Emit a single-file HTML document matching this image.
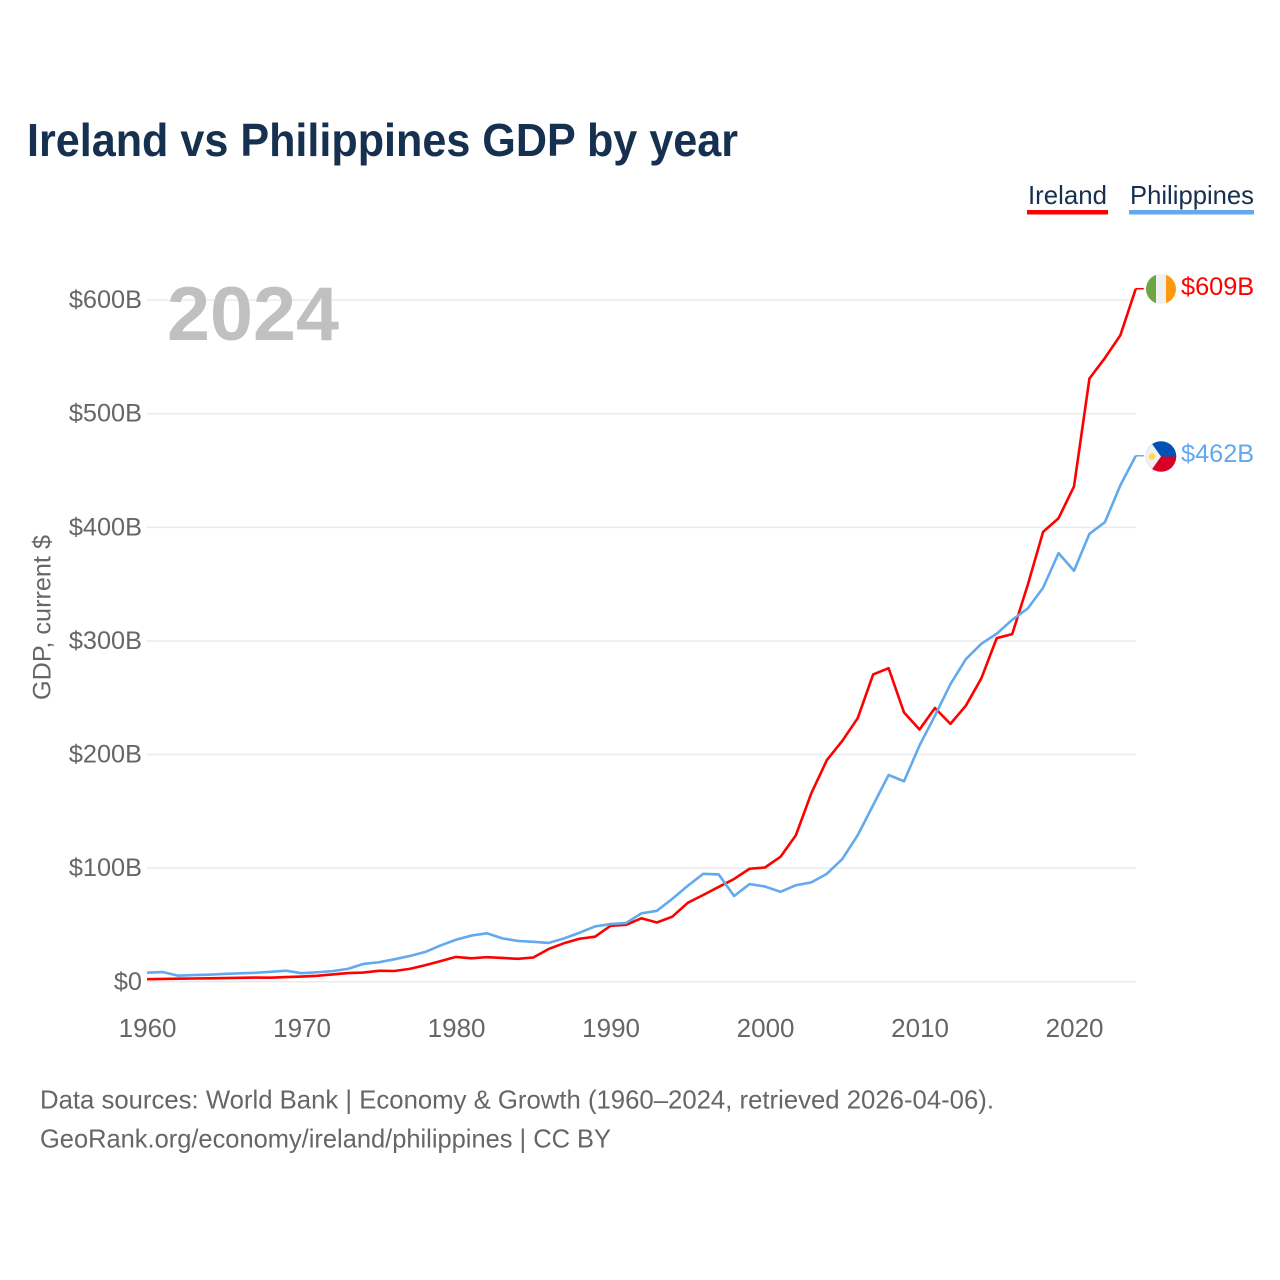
<!DOCTYPE html>
<html lang="en">
<head>
<meta charset="utf-8">
<title>Ireland vs Philippines GDP by year</title>
<style>
html,body{margin:0;padding:0;background:#fff}
svg{display:block}
text{font-family:"Liberation Sans",sans-serif}
</style>
</head>
<body>
<svg id="chart" xmlns="http://www.w3.org/2000/svg" width="1280" height="1280" viewBox="0 0 1280 1280">
  <rect x="0" y="0" width="1280" height="1280" fill="#fff"/>
  <defs>
    <clipPath id="clip-ie"><circle cx="1161" cy="289" r="15"/></clipPath>
    <clipPath id="clip-ph"><circle cx="1161" cy="456.5" r="15.3"/></clipPath>
  </defs>
  <text x="27" y="156" font-size="46" font-weight="700" fill="#16304f" textLength="711" lengthAdjust="spacingAndGlyphs">Ireland vs Philippines GDP by year</text>

  <g>
    <g>
      <text x="1028" y="204" font-size="26" fill="#16304f" textLength="79" lengthAdjust="spacingAndGlyphs">Ireland</text>
      <rect x="1027" y="210" width="81" height="4.5" fill="#ff0000"/>
    </g>
    <g>
      <text x="1130" y="204" font-size="26" fill="#16304f" textLength="124" lengthAdjust="spacingAndGlyphs">Philippines</text>
      <rect x="1129" y="210" width="125" height="4.5" fill="#63a9ee"/>
    </g>
  </g>

  <g id="grid"></g>
  <g id="y-ticks"></g>
  <g id="x-ticks"></g>

  <text x="167" y="340" font-size="76" font-weight="700" fill="#c0c0c0" textLength="172" lengthAdjust="spacingAndGlyphs">2024</text>

  <text transform="translate(50.5,617.5) rotate(-90)" text-anchor="middle" font-size="25" fill="#666666" textLength="165" lengthAdjust="spacingAndGlyphs">GDP, current $</text>

  <g id="series"></g>
  <g id="end-labels"></g>

  <g clip-path="url(#clip-ie)">
    <rect x="1146" y="274" width="10" height="30" fill="#6da544"/>
    <rect x="1156" y="274" width="10" height="30" fill="#f0f0f0"/>
    <rect x="1166" y="274" width="10" height="30" fill="#ff9811"/>
  </g>
  <g clip-path="url(#clip-ph)">
    <rect x="1145" y="441" width="32" height="15.5" fill="#0052b4"/>
    <rect x="1145" y="456.5" width="32" height="16" fill="#d80027"/>
    <polygon points="1145,441 1150,441 1161,456.5 1150,472 1145,472" fill="#f0f0f0"/>
    <circle cx="1152" cy="456.5" r="3.3" fill="#ffda44"/>
  </g>

  <text x="40" y="1108.5" font-size="26" fill="#666666" textLength="954" lengthAdjust="spacingAndGlyphs">Data sources: World Bank | Economy &amp; Growth (1960–2024, retrieved 2026-04-06).</text>
  <text x="40" y="1147.5" font-size="26" fill="#666666" textLength="571" lengthAdjust="spacingAndGlyphs">GeoRank.org/economy/ireland/philippines | CC BY</text>
</svg>

<script>
const firstYear = 1960;
const irelandValues = [2.3,2.5,2.7,2.9,3.1,3.3,3.5,3.7,3.6,4.2,4.6,5.3,6.5,7.7,8.1,9.7,9.5,11.4,14.6,18.2,21.9,20.7,21.7,21.0,20.2,21.4,28.9,34.0,37.9,39.7,49.3,50.1,55.9,52.2,57.3,69.5,76.4,83.5,90.5,99.5,100.6,110,129,166,195,212,232,270.5,276,237,222,241,227,243,267,302.5,306,349,396,408,436,531,549,569,610];
const philippinesValues = [8.0,8.6,5.4,5.9,6.3,6.9,7.5,7.9,8.8,9.8,7.6,8.4,9.4,11.4,15.7,17.2,19.8,22.7,26.2,32.0,37.0,40.7,42.7,38.2,36.0,35.2,34.2,38.2,43.2,48.7,50.8,51.7,60.2,62.5,73.0,84.5,95.0,94.5,75.5,86.0,83.9,79.2,85.0,87.5,95.0,108,129,155.5,182,176.5,208,234.2,261.9,283.9,297.5,306.4,318.6,328.5,346.8,377.3,361.8,394.3,404.5,437,463];
const yTickValues = [0,100,200,300,400,500,600];
const yTickLabels = ["$0","$100B","$200B","$300B","$400B","$500B","$600B"];
const xTickValues = [1960,1970,1980,1990,2000,2010,2020];
const xTickLabels = ["1960","1970","1980","1990","2000","2010","2020"];
const endLabelIreland = "$609B";
const endLabelPhilippines = "$462B";

const NS = "http://www.w3.org/2000/svg";
const xScale = function (year) { return 147 + (year - 1960) * 15.45; };
const yScale = function (value) { return 981.8 - value * 1.1362; };

function make(parentId, tag, attrs) {
  const el = document.createElementNS(NS, tag);
  Object.keys(attrs).forEach(function (k) { el.setAttribute(k, attrs[k]); });
  document.getElementById(parentId).appendChild(el);
  return el;
}

yTickValues.forEach(function (v, i) {
  const line = make("grid", "line", {x1: 147, x2: 1136, y1: yScale(v), y2: yScale(v), stroke: "#ebebeb", "stroke-width": 1.5});
  
  
  const label = make("y-ticks", "text", {x: 142, y: yScale(v) + 8, "text-anchor": "end", "font-size": 25.3, fill: "#666666"});
  
  
  label.textContent = yTickLabels[i];
});

xTickValues.forEach(function (v, i) {
  const label = make("x-ticks", "text", {x: xScale(v) + 0.6, y: 1037, "text-anchor": "middle", "font-size": 26, fill: "#666666"});
  
  
  label.textContent = xTickLabels[i];
});

function seriesPoints(values) {
  return values.map(function (v, i) {
    return xScale(firstYear + i).toFixed(2) + "," + yScale(v).toFixed(2);
  });
}

const irelandLine = make("series", "polyline", {points: seriesPoints(irelandValues).join(" "), fill: "none", stroke: "#ff0000", "stroke-width": 2.6, "stroke-linejoin": "round"});



const philippinesLine = make("series", "polyline", {points: seriesPoints(philippinesValues).join(" "), fill: "none", stroke: "#63a9ee", "stroke-width": 2.6, "stroke-linejoin": "round"});



const lastYear = firstYear + irelandValues.length - 1;
const irelandEnd = yScale(irelandValues[irelandValues.length - 1]);
const philippinesEnd = yScale(philippinesValues[philippinesValues.length - 1]);

const irelandStub = make("end-labels", "line", {x1: xScale(lastYear), x2: xScale(lastYear) + 8, y1: irelandEnd, y2: irelandEnd, stroke: "#ff0000", "stroke-width": 1.5});



const philippinesStub = make("end-labels", "line", {x1: xScale(lastYear), x2: xScale(lastYear) + 8, y1: philippinesEnd, y2: philippinesEnd, stroke: "#63a9ee", "stroke-width": 1.5});



const irelandValue = make("end-labels", "text", {x: 1181, y: 295, "font-size": 25.3, fill: "#ff0000"});


irelandValue.textContent = endLabelIreland;

const philippinesValue = make("end-labels", "text", {x: 1181, y: 462, "font-size": 25.3, fill: "#63a9ee"});


philippinesValue.textContent = endLabelPhilippines;
</script>
</body>
</html>
